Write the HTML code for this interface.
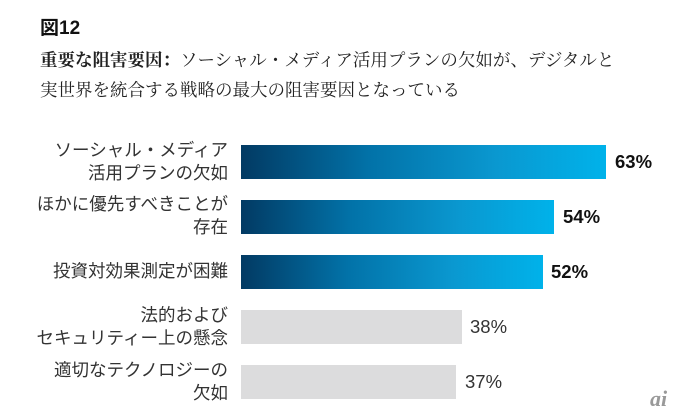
<!DOCTYPE html>
<html><head><meta charset="utf-8"><style>
body{margin:0;width:678px;height:416px;background:#fff;position:relative;overflow:hidden;font-family:"Liberation Sans","Noto Sans CJK JP",sans-serif;color:#222}
.a{position:absolute}
.lab{position:absolute;right:450px;text-align:right;font-size:17.5px;line-height:23px;color:#333;white-space:nowrap}
.bar{position:absolute;left:241px;height:34px}
.g{background:linear-gradient(to right,#023a63,#0272a8 35%,#0a98d0 70%,#00b2ea)}
.l{background:#dcdcdd}
.v{position:absolute;font-size:18.5px;line-height:34px;color:#111}
</style></head><body>
<div class="a" style="left:40px;top:13px;font-size:19px;font-weight:bold;color:#111">図12</div>
<div class="a" style="left:40px;top:45px;font-size:17.5px;line-height:30px;font-family:'Liberation Serif','Noto Serif CJK SC',serif;color:#222;white-space:nowrap"><b>重要な阻害要因：</b>ソーシャル・メディア活用プランの欠如が、デジタルと<br>実世界を統合する戦略の最大の阻害要因となっている</div>
<div class="lab" style="top:139px">ソーシャル・メディア<br>活用プランの欠如</div>
<div class="lab" style="top:193px">ほかに優先すべきことが<br>存在</div>
<div class="lab" style="top:260px">投資対効果測定が困難</div>
<div class="lab" style="top:304px">法的および<br>セキュリティー上の懸念</div>
<div class="lab" style="top:359px">適切なテクノロジーの<br>欠如</div>
<div class="bar g" style="top:145px;width:365px"></div>
<div class="bar g" style="top:200px;width:313px"></div>
<div class="bar g" style="top:255px;width:302px"></div>
<div class="bar l" style="top:310px;width:221px"></div>
<div class="bar l" style="top:365px;width:215px"></div>
<div class="v" style="top:145px;left:615px;font-weight:bold">63%</div>
<div class="v" style="top:200px;left:563px;font-weight:bold">54%</div>
<div class="v" style="top:255px;left:551px;font-weight:bold">52%</div>
<div class="v" style="top:310px;left:470px;color:#333">38%</div>
<div class="v" style="top:365px;left:465px;color:#333">37%</div>
<div class="a" style="left:650px;top:386px;font-size:22px;font-style:italic;font-weight:bold;color:#999;font-family:'Liberation Serif',serif">ai</div>
</body></html>
